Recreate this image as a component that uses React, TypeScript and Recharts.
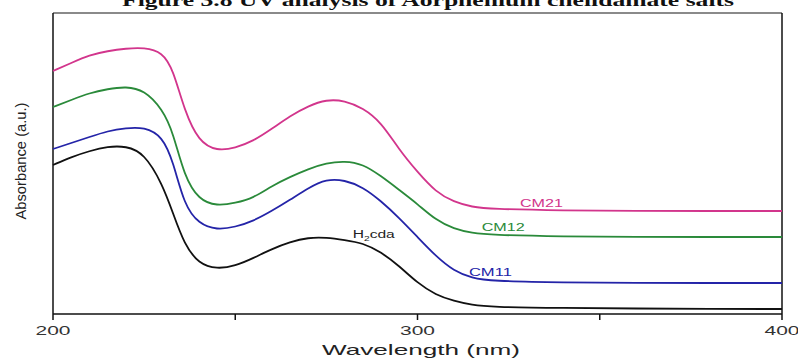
import { LineChart, Line, XAxis, YAxis, ReferenceDot, ReferenceLine } from 'recharts'

// wavelength (nm) samples, shared by all four spectra
const wavelength = [200, 205, 210, 215, 220, 225, 230, 233, 236, 240, 245, 250, 255, 260, 265, 270, 275, 280, 285, 290, 295, 300, 305, 310, 315, 320, 340, 360, 380, 400]

// absorbance (a.u., offset traces)
const cm21 = [243, 251, 259, 263, 265.5, 266.5, 262, 244, 204, 172, 163, 166, 173, 185, 198, 208, 214.5, 213.5, 206, 192, 164, 142, 122, 112, 107, 105, 103.5, 103, 103, 103]
const cm12 = [207, 214, 221, 225, 227.5, 224, 205, 181, 138, 114, 108, 111, 116, 128, 137, 145, 151, 153, 150, 138, 124, 110, 94, 85, 81, 79, 77.5, 77, 77, 77]
const cm11 = [165, 171, 177, 183, 186, 187, 178, 152, 109, 90, 84, 87, 93, 103, 114, 126, 135, 134, 127, 113, 96, 77, 58, 43, 36, 33, 31.5, 31, 31, 31]
const h2cda = [149, 157, 163, 167.5, 168, 161, 130, 100, 70, 50, 45, 48, 56, 65, 72, 76.5, 76.5, 74, 71, 62, 48, 31, 19, 13, 9, 7, 6, 5.5, 5, 5]

const xTicks = [200, 250, 300, 350, 400]
const labeledTicks = [200, 300, 400]

// where the curve names sit (nm, a.u.)
const curveLabels = [
  { name: 'CM21', x: 334, y: 111, color: '#d2358c' },
  { name: 'CM12', x: 323.5, y: 87, color: '#2a8a3a' },
  { name: 'CM11', x: 320, y: 42, color: '#2424a8' },
]

const data = wavelength.map((nm, i) => ({
  nm,
  cm21: cm21[i],
  cm12: cm12[i],
  cm11: cm11[i],
  h2cda: h2cda[i],
}))

const font = '"Liberation Sans", Arial, sans-serif'

function XTick(props: any) {
  const { x, y, payload } = props
  if (!labeledTicks.includes(payload.value)) return <g />
  return (
    <text x={x} y={y + 13} textAnchor="middle" fontFamily={font} fontSize={12.4} fill="#333"
      textLength={35} lengthAdjust="spacingAndGlyphs">
      {payload.value}
    </text>
  )
}

export default function App() {
  return (
    <div style={{ position: 'absolute', left: 0, top: 0, width: 798, height: 360, background: '#fff' }}>
      <LineChart width={798} height={360} data={data} margin={{ top: 13, right: 16, bottom: 0, left: 53 }}>
        <XAxis dataKey="nm" type="number" domain={[200, 400]} ticks={xTicks} height={46}
          tickSize={6} tick={<XTick />} stroke="#111" strokeWidth={1.5} />
        <YAxis type="number" domain={[0, 301]} hide />
        <ReferenceLine y={301} stroke="#8a8a8a" strokeWidth={2} />
        <ReferenceLine x={200} stroke="#111" strokeWidth={1.5} />
        <ReferenceLine x={400} stroke="#111" strokeWidth={1.5} />
        <Line type="basis" dataKey="cm21" stroke="#d2358c" strokeWidth={1.8} dot={false} isAnimationActive={false} />
        <Line type="basis" dataKey="cm12" stroke="#2a8a3a" strokeWidth={1.8} dot={false} isAnimationActive={false} />
        <Line type="basis" dataKey="cm11" stroke="#2424a8" strokeWidth={1.8} dot={false} isAnimationActive={false} />
        <Line type="basis" dataKey="h2cda" stroke="#111" strokeWidth={1.8} dot={false} isAnimationActive={false} />
        {curveLabels.map((l) => (
          <ReferenceDot key={l.name} x={l.x} y={l.y} r={0}
            shape={(p: any) => (
              <text x={p.cx} y={p.cy} dy={4} textAnchor="middle" fontFamily={font} fontSize={10.5}
                fill={l.color} textLength={43} lengthAdjust="spacingAndGlyphs">
                {l.name}
              </text>
            )} />
        ))}
        <ReferenceDot x={288} y={80} r={0}
          shape={(p: any) => (
            <text x={p.cx} y={p.cy} dy={4} textAnchor="middle" fontFamily={font} fontSize={10}
              fill="#222" textLength={42} lengthAdjust="spacingAndGlyphs">
              H<tspan fontSize={6.5} dy={3}>2</tspan><tspan dy={-3}>cda</tspan>
            </text>
          )} />
      </LineChart>
      <svg width={798} height={360} style={{ position: 'absolute', left: 0, top: 0, pointerEvents: 'none' }}>
        <text x={428} y={6} textAnchor="middle" fontFamily='"Liberation Serif", "Times New Roman", serif'
          fontWeight="bold" fontSize={17} fill="#111" textLength={612} lengthAdjust="spacingAndGlyphs">
          Figure 3.8 UV analysis of Aorphenium chelidamate salts
        </text>
        <text x={421} y={355} textAnchor="middle" fontFamily={font} fontSize={15} fill="#222"
          textLength={198} lengthAdjust="spacingAndGlyphs">
          Wavelength (nm)
        </text>
        <text transform="translate(26,161) rotate(-90)" textAnchor="middle" fontFamily={font}
          fontSize={14} fill="#222" textLength={117} lengthAdjust="spacingAndGlyphs">
          Absorbance (a.u.)
        </text>
      </svg>
    </div>
  )
}
